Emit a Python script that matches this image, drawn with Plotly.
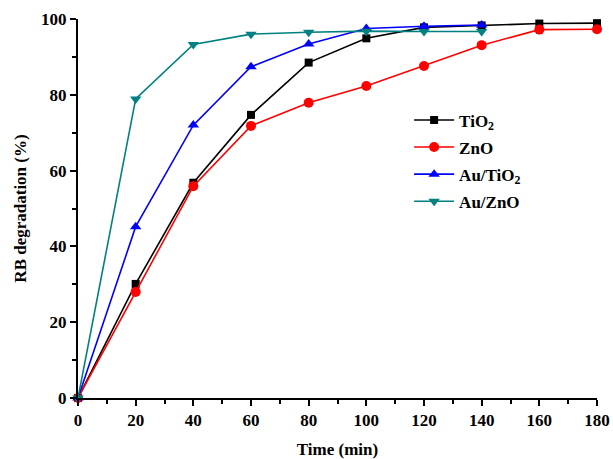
import plotly.graph_objects as go

time_tio2 = [0, 20, 40, 60, 80, 100, 120, 140, 160, 180]
tio2 = [0, 30.1, 56.8, 74.7, 88.5, 94.9, 97.8, 98.3, 98.8, 98.9]
time_zno = [0, 20, 40, 60, 80, 100, 120, 140, 160, 180]
zno = [0, 28.0, 55.9, 71.8, 77.9, 82.3, 87.6, 93.1, 97.2, 97.3]
time_au_tio2 = [0, 20, 40, 60, 80, 100, 120, 140]
au_tio2 = [0, 45.2, 72.0, 87.4, 93.4, 97.5, 98.1, 98.4]
time_au_zno = [0, 20, 40, 60, 80, 100, 120, 140]
au_zno = [0, 78.9, 93.3, 96.0, 96.5, 96.8, 96.7, 96.7]

series = [
    ("TiO<sub>2</sub>", time_tio2, tio2, "#000000", "square", 8),
    ("ZnO", time_zno, zno, "#ff0000", "circle", 10),
    ("Au/TiO<sub>2</sub>", time_au_tio2, au_tio2, "#0000ff", "triangle-up", 10),
    ("Au/ZnO", time_au_zno, au_zno, "#008080", "triangle-down", 10),
]

fig = go.Figure()
for i, (name, x, y, color, sym, ms) in enumerate(series):
    fig.add_trace(go.Scatter(
        x=x, y=y, name=name, mode="lines+markers",
        line=dict(color=color, width=1.6),
        marker=dict(symbol=sym, size=ms, color=color),
        cliponaxis=False, legendgroup=f"g{i}",
    ))

font_family = "Liberation Serif"
fs = 17
fig.update_layout(
    width=613, height=459,
    margin=dict(l=78, r=16, t=19, b=61),
    plot_bgcolor="white", paper_bgcolor="white",
    font=dict(family=font_family, size=fs, color="black"),
    showlegend=True,
    legend=dict(x=0.638, y=0.78, xanchor="left", yanchor="top",
                bgcolor="rgba(0,0,0,0)", font=dict(size=fs, family=font_family, weight="bold"),
                tracegroupgap=2, itemwidth=40),
    xaxis=dict(
        range=[0, 180], tickmode="linear", tick0=0, dtick=20,
        showline=True, linecolor="black", linewidth=2, mirror=False,
        ticks="outside", ticklen=6, tickwidth=2, tickcolor="black",
        minor=dict(dtick=10, ticks="outside", ticklen=4, tickwidth=1.5, tickcolor="black"),
        showgrid=False, zeroline=False, automargin=False,
        tickfont=dict(family=font_family, size=fs, weight="bold"),
        title=dict(text="<b>Time (min)</b>", font=dict(family=font_family, size=fs), standoff=14),
    ),
    yaxis=dict(
        range=[0, 100], tickmode="linear", tick0=0, dtick=20,
        showline=True, linecolor="black", linewidth=2, mirror=False,
        ticks="outside", ticklen=6, tickwidth=2, tickcolor="black",
        minor=dict(dtick=10, ticks="outside", ticklen=4, tickwidth=1.5, tickcolor="black"),
        showgrid=False, zeroline=False, automargin=False,
        tickfont=dict(family=font_family, size=fs, weight="bold"),
        title=dict(text="<b>RB degradation (%)</b>", font=dict(family=font_family, size=fs), standoff=10),
    ),
)

fig.write_html("out.html", config={"displayModeBar": False},
               post_script="document.body.style.margin='0';document.body.style.overflow='hidden';")
